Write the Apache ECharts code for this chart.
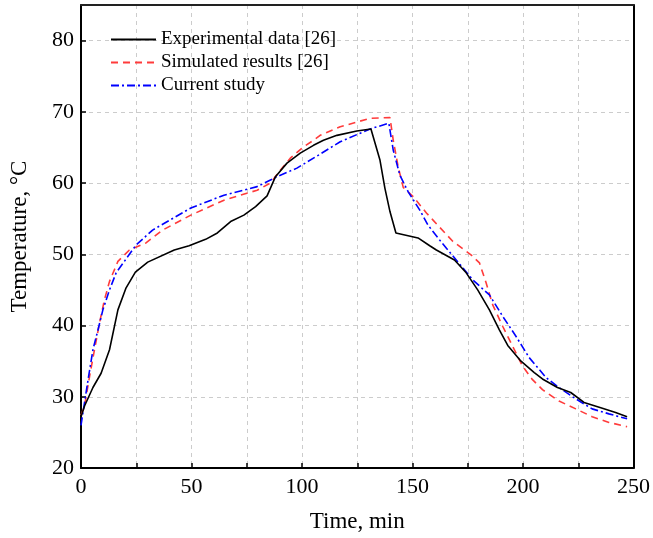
<!DOCTYPE html>
<html>
<head>
<meta charset="utf-8">
<script src="https://cdn.jsdelivr.net/npm/echarts@6/dist/echarts.min.js"></script>
<style>
  html, body { margin: 0; padding: 0; background: #fff; }
  #chart { width: 653px; height: 538px; }
</style>
</head>
<body>
<div id="chart"></div>
<script>
// 实验数据 [26]
var expTime = [0, 1.6, 5.4, 9.1, 12.9, 16.7, 20.4, 24.6, 30.2, 42.2, 48.9, 56.4, 61.7, 67.7, 73.7, 79, 84.2, 88, 93.2, 99.2, 105.2, 109.7, 115.8, 124.8, 131.2, 135.3, 137.5, 139.8, 142.5, 152.5, 157.8, 160.8, 169, 174.3, 179.5, 184.8, 189.3, 193.1, 199.1, 205.1, 208.8, 215.6, 221.6, 227.6, 235.9, 241.9, 247.1];
var expTemp = [27.2, 28.7, 31.3, 33.3, 36.6, 42.2, 45.3, 47.5, 48.9, 50.6, 51.2, 52.1, 53.0, 54.6, 55.5, 56.7, 58.2, 60.9, 62.8, 64.2, 65.3, 66.0, 66.7, 67.3, 67.6, 63.2, 59.3, 56.0, 53.0, 52.3, 51.2, 50.6, 49.2, 47.4, 45.0, 42.2, 39.4, 37.2, 35.0, 33.4, 32.5, 31.3, 30.6, 29.2, 28.4, 27.8, 27.2];

// 模拟结果 [26]
var simTime = [0, 1.6, 3.9, 6.1, 8.4, 10.6, 12.9, 16.7, 21.9, 29.4, 36.9, 49.7, 64.7, 79.7, 85.7, 90.2, 94.7, 100.7, 105.2, 108.2, 117.3, 130.8, 139.8, 141.3, 143.5, 145.8, 150.3, 156.3, 159.3, 168.3, 176.6, 180.3, 183.3, 186.3, 190.8, 195.3, 199.8, 204.3, 208.8, 216.3, 223.9, 231.3, 238.9, 247.1];
var simTemp = [27.4, 28.7, 32.9, 36.6, 40.4, 43.6, 46.2, 49.0, 50.6, 51.6, 53.4, 55.5, 57.6, 59.0, 60.0, 61.8, 63.5, 65.1, 66.0, 66.7, 67.9, 69.1, 69.2, 66.0, 62.3, 59.4, 58.1, 55.8, 54.8, 51.8, 49.9, 48.8, 46.0, 42.9, 39.9, 37.1, 34.3, 32.4, 31.0, 29.4, 28.3, 27.2, 26.4, 25.8];

// 本研究
var curTime = [0, 3.2, 5.4, 7.7, 9.9, 12.9, 15.9, 19.6, 24.9, 32.4, 49.7, 64.7, 79.7, 88.7, 97.7, 106.8, 117.3, 130.8, 139.3, 141.3, 144.3, 148, 153.3, 157, 162.3, 169.8, 177.3, 184.8, 190.8, 196.8, 202.8, 210.4, 216.3, 223.9, 231.3, 238.9, 247.1];
var curTemp = [26.0, 32.4, 36.6, 39.4, 42.2, 45.0, 47.4, 49.0, 51.3, 53.4, 56.5, 58.3, 59.5, 60.9, 62.1, 63.8, 65.8, 67.6, 68.4, 64.6, 61.1, 58.8, 56.2, 54.1, 52.0, 49.2, 46.4, 44.3, 41.3, 38.5, 35.5, 32.7, 31.3, 29.7, 28.3, 27.6, 26.9];

var xTicks = [0, 50, 100, 150, 200, 250];
var yTicks = [20, 30, 40, 50, 60, 70, 80];

function pairs(xs, ys) {
  return xs.map(function (x, i) { return [x, ys[i]]; });
}

var font = 'Liberation Serif';

var myChart = echarts.init(document.getElementById('chart'), null, { renderer: 'canvas' });

var options = {
  animation: false,
  textStyle: { fontFamily: font },
  grid: {
    left: 80,
    right: 18,
    top: 5,
    bottom: 69
  },
  legend: {
    left: 105,
    top: 25,
    orient: 'vertical',
    itemWidth: 45,
    itemHeight: 14,
    itemGap: 4,
    itemStyle: { opacity: 0 },
    textStyle: { fontFamily: font, fontSize: 19, color: '#000' },
    data: ['Experimental data [26]', 'Simulated results [26]', 'Current study']
  },
  xAxis: [
    {
      type: 'value',
      min: 0,
      max: 250,
      interval: 25,
      name: 'Time, min',
      nameLocation: 'middle',
      nameGap: 42,
      nameTextStyle: { fontFamily: font, fontSize: 23, color: '#000' },
      axisLine: { onZero: false, lineStyle: { color: '#000', width: 2 } },
      axisTick: { inside: true, length: 5, lineStyle: { color: '#000', width: 1.5 } },
      axisLabel: {
        fontFamily: font,
        fontSize: 22,
        color: '#000',
        margin: 8,
        formatter: function (v) { return xTicks.indexOf(v) >= 0 ? String(v) : ''; }
      },
      splitLine: { show: true, lineStyle: { color: '#cccccc', type: [4, 4], width: 1 } }
    },
    {
      type: 'value',
      position: 'top',
      min: 0,
      max: 250,
      axisLine: { show: true, onZero: false, lineStyle: { color: '#222', width: 2 } },
      axisTick: { show: false },
      axisLabel: { show: false },
      splitLine: { show: false }
    }
  ],
  yAxis: [
    {
      type: 'value',
      min: 20,
      max: 85,
      interval: 10,
      name: 'Temperature, °C',
      nameLocation: 'middle',
      nameGap: 50,
      nameTextStyle: { fontFamily: font, fontSize: 23, color: '#000' },
      axisLine: { show: true, onZero: false, lineStyle: { color: '#000', width: 2 } },
      axisTick: { inside: true, length: 5, lineStyle: { color: '#000', width: 1.5 } },
      axisLabel: {
        fontFamily: font,
        fontSize: 22,
        color: '#000',
        margin: 7,
        showMaxLabel: false,
        formatter: function (v) { return yTicks.indexOf(v) >= 0 ? String(v) : ''; }
      },
      splitLine: { show: true, lineStyle: { color: '#cccccc', type: [4, 4], width: 1 } }
    },
    {
      type: 'value',
      position: 'right',
      min: 20,
      max: 85,
      axisLine: { show: true, onZero: false, lineStyle: { color: '#000', width: 2 } },
      axisTick: { show: false },
      axisLabel: { show: false },
      splitLine: { show: false }
    }
  ],
  series: [
    {
      name: 'Experimental data [26]',
      type: 'line',
      symbol: 'none',
      z: 3,
      lineStyle: { color: '#000', width: 1.6, type: 'solid' },
      itemStyle: { color: '#000' },
      data: pairs(expTime, expTemp)
    },
    {
      name: 'Simulated results [26]',
      type: 'line',
      symbol: 'none',
      z: 2,
      lineStyle: { color: '#ff3b3b', width: 1.6, type: [7, 5] },
      itemStyle: { color: '#ff3b3b' },
      data: pairs(simTime, simTemp)
    },
    {
      name: 'Current study',
      type: 'line',
      symbol: 'none',
      z: 2,
      lineStyle: { color: '#0000ff', width: 1.6, type: [8, 3, 2, 3] },
      itemStyle: { color: '#0000ff' },
      data: pairs(curTime, curTemp)
    }
  ]
};

myChart.setOption(options);
</script>
</body>
</html>
